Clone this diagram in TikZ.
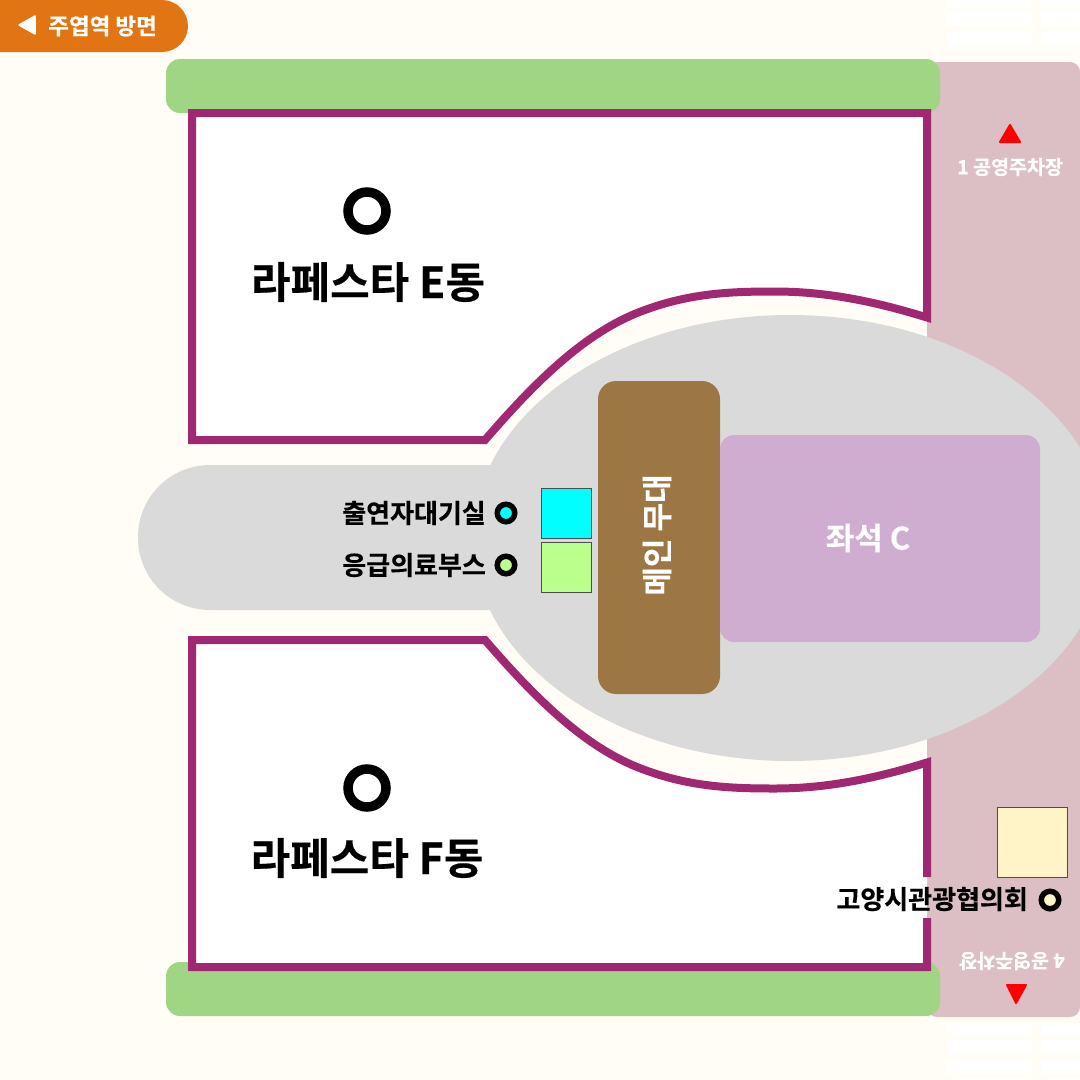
\documentclass[tikz,border=0pt]{standalone}
\usepackage{fontspec}
\setmainfont{Noto Sans CJK KR}[BoldFont=* Bold,BoldFeatures={FakeBold=0.4}]
\usepackage{xcolor}
\definecolor{pagebg}{HTML}{FFFDF6}
\definecolor{tabcol}{HTML}{E27513}
\definecolor{lawn}{HTML}{A0D683}
\definecolor{road}{HTML}{DCBFC4}
\definecolor{wall}{HTML}{A02772}
\definecolor{plaza}{HTML}{DADADA}
\definecolor{stagecol}{HTML}{9C7743}
\definecolor{seatcol}{HTML}{CFADD0}
\definecolor{waitcol}{HTML}{00FFFF}
\definecolor{medcol}{HTML}{BBFF8C}
\definecolor{creamcol}{HTML}{FFF3C8}
\tikzset{lawnbox/.style={fill=lawn,rounded corners=14pt},
         wallline/.style={draw=wall,line width=8pt,miter limit=20},
         booth/.style={draw=black!70,line width=0.9pt},
         dot/.style={circle,draw=black,line width=5.5pt,inner sep=0pt,minimum size=17.5pt},
         bigdot/.style={circle,draw=black,fill=white,line width=9.5pt,inner sep=0pt,minimum size=38pt},
         whitetext/.style={text=white,font=\bfseries\fontsize{#1}{#1}\selectfont,inner sep=0pt},
         blacktext/.style={text=black,font=\bfseries\fontsize{#1}{#1}\selectfont,inner sep=0pt},
         redtri/.style={fill=red,draw=red,line width=2pt,line join=round}}
\begin{document}
\begin{tikzpicture}[x=1pt,y=-1pt]
		\useasboundingbox (0,0) rectangle (1080,1080);
		\clip (0,0) rectangle (1080,1080);
		\fill[pagebg] (0,0) rectangle (1080,1080);
		% stripes
		\foreach \ya/\yb in {0/8,12/26,32/45,1023/1036,1040/1053,1059/1074} {
			\fill[white] (947,\ya) rectangle (1032,\yb);
			\fill[white] (1041,\ya) rectangle (1080,\yb);
		}
		\fill[road,rounded corners=10pt] (927,62) rectangle (1080,1017);
		\fill[lawnbox] (166,59) rectangle (940,113);
		\fill[lawnbox] (166,962) rectangle (940,1016);
		% buildings
		\fill[white] (192,113) -- (927,113) -- (927,317.5) .. controls (880,303) and (830,291.5) .. (775,291.5)
			.. controls (730,291.5) and (687,293) .. (637,313) .. controls (580,336) and (530,388) .. (485,440) -- (192,440) -- cycle;
		\draw[wallline] (192,113) -- (927,113) -- (927,317.5) .. controls (880,303) and (830,291.5) .. (775,291.5)
			.. controls (730,291.5) and (687,293) .. (637,313) .. controls (580,336) and (530,388) .. (485,440) -- (192,440) -- cycle;
		\fill[white] (192,967) -- (927,967) -- (927,762.5) .. controls (880,777) and (830,788.5) .. (775,788.5)
			.. controls (730,788.5) and (687,787) .. (637,767) .. controls (580,744) and (530,692) .. (485,640) -- (192,640) -- cycle;
		\draw[wallline] (927,918) -- (927,967) -- (192,967) -- (192,640) -- (485,640)
			.. controls (530,692) and (580,744) .. (637,767) .. controls (687,787) and (730,788.5) .. (775,788.5)
			.. controls (830,788.5) and (880,777) .. (927,762.5) -- (927,877);
		% plaza
		\fill[plaza] (790,538) ellipse [x radius=317pt,y radius=223pt];
		\fill[plaza,rounded corners=72pt] (138,465) rectangle (400,610) [sharp corners] (300,465) rectangle (500,610);
		\fill[stagecol,rounded corners=18pt] (598,381) rectangle (720,694);
		\fill[seatcol,rounded corners=14pt] (720,435) rectangle (1040,642);
		\draw[booth,fill=waitcol] (541,488) rectangle (591,538);
		\draw[booth,fill=medcol] (541,542) rectangle (591,592);
		\draw[booth,fill=creamcol] (997,807) rectangle (1067,877);
		% tab
		\fill[tabcol,rounded corners=26pt] (-40,0) rectangle (188,52);
		\fill[white,draw=white,line width=1.5pt,line join=round] (19,25) -- (35,16) -- (35,34) -- cycle;
		\node[whitetext=22.5] (station) at (102.5,26) {주엽역 방면};
		% labels
		\node[bigdot] (dotE) at (367,211) {};
		\node[blacktext=43] (labelE) at (368,282) {라페스타 E동};
		\node[bigdot] (dotF) at (367,788) {};
		\node[blacktext=43] (labelF) at (367,858) {라페스타 F동};
		\node[whitetext=31,rotate=90] (stage) at (657,535) {메인 무대};
		\node[whitetext=31] (seat) at (868,538) {좌석 C};
		\node[dot,fill=waitcol] (dotWait) at (506,513) {};
		\node[blacktext=26,anchor=east] (labelWait) at (486,513) {출연자대기실};
		\node[dot,fill=medcol] (dotMed) at (506,565) {};
		\node[blacktext=26,anchor=east] (labelMed) at (486,565) {응급의료부스};
		\node[dot,fill=creamcol] (dotTour) at (1050,900) {};
		\node[blacktext=26,anchor=east] (labelTour) at (1028,899) {고양시관광협의회};
		\draw[redtri] (1010,125) -- (1000,142) -- (1020,142) -- cycle;
		\node[whitetext=19.5] (park1) at (1010,167) {1 공영주차장};
		\draw[redtri] (1016,1003) -- (1007,985) -- (1026,985) -- cycle;
		\node[whitetext=19.5,rotate=180] (park4) at (1012,961) {4 공영주차장};
	\end{tikzpicture}
\end{document}
